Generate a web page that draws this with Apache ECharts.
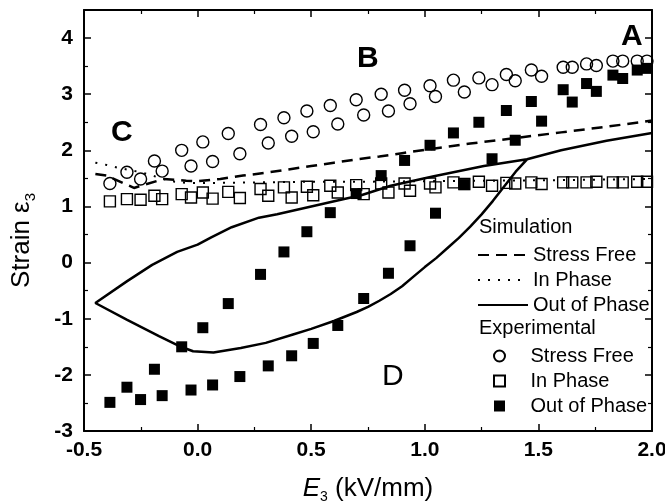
<!DOCTYPE html>
<html><head><meta charset="utf-8">
<script src="https://cdn.jsdelivr.net/npm/echarts/dist/echarts.min.js"></script>
<style>html,body{margin:0;padding:0;background:#fff}#c{width:665px;height:504px}</style>
</head><body><div id="c"></div><script>
// Experimental field values (kV/mm), shared by all three experimental series
var expE = [-0.386,-0.311,-0.251,-0.19,-0.156,-0.070,-0.029,0.023,0.066,0.135,0.186,0.277,0.311,0.380,0.414,0.481,0.509,0.584,0.617,0.698,0.731,0.808,0.840,0.911,0.935,1.023,1.047,1.126,1.174,1.238,1.296,1.359,1.398,1.469,1.514,1.609,1.649,1.712,1.755,1.828,1.871,1.935,1.978];
var expStressFree = [1.41,1.61,1.49,1.81,1.63,2.00,1.72,2.15,1.80,2.30,1.94,2.46,2.13,2.58,2.25,2.70,2.33,2.80,2.47,2.90,2.63,3.00,2.70,3.07,2.83,3.15,2.96,3.25,3.04,3.29,3.17,3.35,3.24,3.43,3.32,3.48,3.48,3.54,3.51,3.59,3.59,3.59,3.59];
var expInPhase = [1.09,1.13,1.12,1.19,1.13,1.22,1.16,1.25,1.14,1.26,1.15,1.31,1.19,1.34,1.16,1.35,1.20,1.37,1.25,1.38,1.22,1.41,1.25,1.41,1.28,1.41,1.34,1.43,1.40,1.44,1.37,1.42,1.41,1.43,1.40,1.43,1.43,1.43,1.44,1.43,1.43,1.44,1.44];
var expOutPhase = [-2.49,-2.22,-2.44,-1.90,-2.37,-1.50,-2.27,-1.16,-2.18,-0.73,-2.03,-0.21,-1.84,0.19,-1.66,0.55,-1.44,0.89,-1.12,1.23,-0.64,1.55,-0.19,1.82,0.30,2.09,0.88,2.31,1.39,2.50,1.85,2.71,2.18,2.87,2.52,3.08,2.86,3.19,3.05,3.34,3.28,3.43,3.46];

// Simulation curves
var simSfE = [-0.45,-0.4,-0.28,-0.15,-0.05,0,0.1,0.2,0.3,0.4,0.5,0.6,0.7,0.8,0.9,1.0,1.2,1.4,1.6,1.8,2.0];
var simSf  = [1.58,1.55,1.33,1.49,1.46,1.45,1.49,1.55,1.60,1.66,1.72,1.78,1.84,1.89,1.95,2.01,2.12,2.22,2.32,2.42,2.53];
var simIpE = [-0.45,-0.4,-0.35,-0.3,-0.25,-0.2,-0.15,-0.1,-0.05,0,0.1,0.3,0.5,0.7,1.0,1.3,1.6,2.0];
var simIp  = [1.78,1.74,1.69,1.65,1.61,1.55,1.49,1.44,1.42,1.42,1.42,1.43,1.44,1.44,1.45,1.46,1.47,1.49];
var simOpE = [2.0,1.8,1.6,1.45,1.40,1.35,1.30,1.25,1.2,1.15,1.1,1.05,1.0,0.95,0.9,0.85,0.8,0.75,0.7,0.6,0.5,0.42,0.3,0.19,0.07,-0.02,-0.08,-0.17,-0.31,-0.45,-0.31,-0.2,-0.09,0.0,0.06,0.15,0.27,0.35,0.5,0.64,0.72,0.85,1.04,1.26,1.45];
var simOp  = [2.31,2.17,2.0,1.84,1.62,1.36,1.10,0.86,0.64,0.44,0.26,0.08,-0.08,-0.25,-0.42,-0.56,-0.68,-0.79,-0.88,-1.04,-1.18,-1.28,-1.43,-1.52,-1.60,-1.58,-1.49,-1.31,-1.02,-0.72,-0.33,-0.04,0.19,0.32,0.45,0.63,0.80,0.86,1.00,1.13,1.20,1.37,1.54,1.72,1.84];

var xTicks = {min:-0.5, max:2.0, step:0.5};
var yTicks = {min:-3, max:4.5, step:1};

function pairs(xs, ys){ return xs.map(function(x,i){ return [x, ys[i]]; }); }
var FONT = 'Liberation Sans';
var SQ = 'path://M0,0L10,0L10,10L0,10Z';

var chart = echarts.init(document.getElementById('c'), null, {renderer:'canvas'});
function axisCommon(pos, showLabel){
  return {
    type:'value', position:pos,
    axisLine:{show:true, onZero:false, lineStyle:{color:'#000', width:2}},
    axisTick:{show:true, inside:true, length:7, lineStyle:{color:'#000', width:1.5}},
    minorTick:{show:true, splitNumber:2, length:4, lineStyle:{color:'#000', width:1.2}},
    splitLine:{show:false}, minorSplitLine:{show:false},
    axisLabel:{show:showLabel, color:'#000', fontFamily:FONT, fontWeight:'bold', fontSize:21, showMaxLabel:false}
  };
}
var xb = axisCommon('bottom', true);
Object.assign(xb, {min:xTicks.min, max:xTicks.max, interval:xTicks.step,
  name:'{i|E}{s|3}{t| (kV/mm)}', nameLocation:'middle', nameGap:43,
  nameTextStyle:{color:'#000', fontFamily:FONT, rich:{
    i:{fontSize:26, fontStyle:'italic', fontFamily:FONT, lineHeight:30},
    s:{fontSize:14, fontFamily:FONT, lineHeight:14, verticalAlign:'bottom'},
    t:{fontSize:26, fontFamily:FONT, lineHeight:30}}}});
xb.axisLabel.showMaxLabel = true; xb.axisLabel.margin = 9;
xb.axisLabel.formatter = function(v){ return v.toFixed(1); };
var xt = axisCommon('top', false);
Object.assign(xt, {min:xTicks.min, max:xTicks.max, interval:xTicks.step});
var yl = axisCommon('left', true);
Object.assign(yl, {min:yTicks.min, max:yTicks.max, interval:yTicks.step,
  name:'{a|Strain ε}{b|3}', nameLocation:'middle', nameGap:46, nameRotate:90,
  nameTextStyle:{color:'#000', fontFamily:FONT, padding:[0,40,0,0], rich:{
    a:{fontSize:26, fontFamily:FONT, lineHeight:32},
    b:{fontSize:15, fontFamily:FONT, lineHeight:15, verticalAlign:'bottom'}}}});
yl.axisLabel.margin = 11;
var yr = axisCommon('right', false);
Object.assign(yr, {min:yTicks.min, max:yTicks.max, interval:yTicks.step});

var option = {
  animation:false,
  backgroundColor:'#fff',
  grid:{left:84, right:13, top:10, bottom:73, containLabel:false, outerBoundsMode:'none'},
  xAxis:[xb, xt],
  yAxis:[yl, yr],
  legend:[
    {data:['Stress Free','In Phase','Out of Phase'], orient:'vertical', left:472, top:240,
     itemWidth:50, itemHeight:14, itemGap:5, selectedMode:false,
     itemStyle:{color:'rgba(0,0,0,0)', borderColor:'rgba(0,0,0,0)', borderWidth:0},
     textStyle:{color:'#000', fontFamily:FONT, fontSize:20}},
    {data:['Stress Free ','In Phase ','Out of Phase '], orient:'vertical', left:488, top:341,
     itemWidth:52, itemHeight:11, itemGap:5, selectedMode:false,
     textStyle:{color:'#000', fontFamily:FONT, fontSize:20}}
  ],
  graphic:[
    {type:'text', left:479, top:217, style:{text:'Simulation', font:'20px "Liberation Sans"', fill:'#000'}},
    {type:'text', left:479, top:318, style:{text:'Experimental', font:'20px "Liberation Sans"', fill:'#000'}},
    {type:'text', left:621, top:22, style:{text:'A', font:'bold 30px "Liberation Sans"', fill:'#000'}},
    {type:'text', left:357, top:44, style:{text:'B', font:'bold 30px "Liberation Sans"', fill:'#000'}},
    {type:'text', left:111, top:118, style:{text:'C', font:'bold 30px "Liberation Sans"', fill:'#000'}},
    {type:'text', left:382, top:362, style:{text:'D', font:'30px "Liberation Sans"', fill:'#000'}}
  ],
  series:[
    {name:'Stress Free', type:'line', data:pairs(simSfE, simSf), symbol:'none', showSymbol:false, z:2,
     lineStyle:{color:'#000', width:2.5, type:[11,7]}, itemStyle:{color:'#000'}},
    {name:'In Phase', type:'line', data:pairs(simIpE, simIp), symbol:'none', showSymbol:false, z:2,
     lineStyle:{color:'#000', width:2, type:[2,8]}, itemStyle:{color:'#000'}},
    {name:'Out of Phase', type:'line', data:pairs(simOpE, simOp), symbol:'none', showSymbol:false, z:2,
     lineStyle:{color:'#000', width:2.5, type:'solid'}, itemStyle:{color:'#000'}},
    {name:'Stress Free ', type:'scatter', data:pairs(expE, expStressFree), symbol:'circle', symbolSize:12, z:3,
     itemStyle:{color:'rgba(0,0,0,0)', borderColor:'#000', borderWidth:1.4, opacity:1}},
    {name:'In Phase ', type:'scatter', data:pairs(expE, expInPhase), symbol:SQ, symbolSize:11, z:3,
     itemStyle:{color:'rgba(0,0,0,0)', borderColor:'#000', borderWidth:1.4, opacity:1}},
    {name:'Out of Phase ', type:'scatter', data:pairs(expE, expOutPhase), symbol:SQ, symbolSize:11, z:4,
     itemStyle:{color:'#000', borderColor:'#000', borderWidth:0, opacity:1}}
  ]
};
chart.setOption(option);
</script></body></html>
